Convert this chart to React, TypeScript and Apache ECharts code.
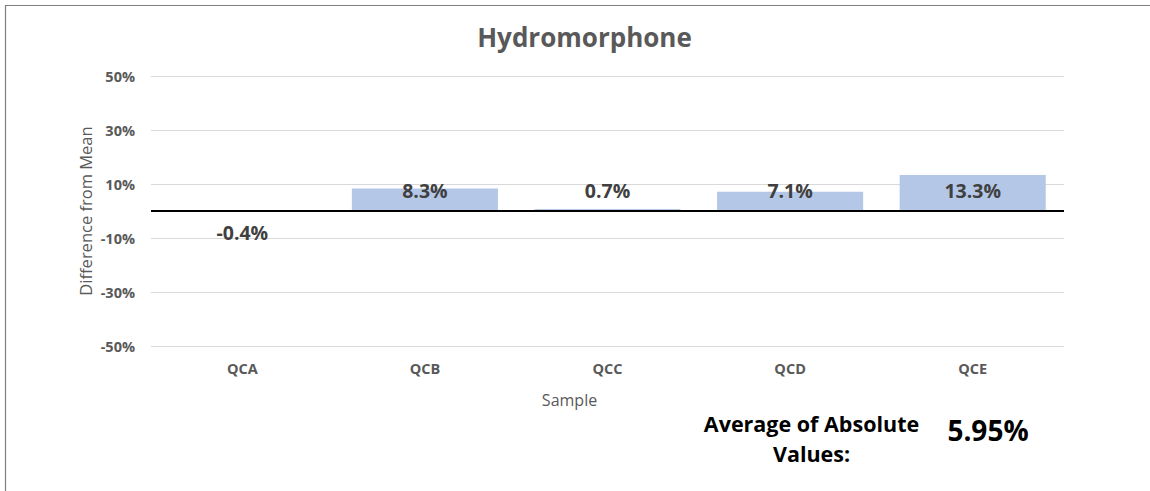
import React, { useEffect, useRef } from 'react';
import * as echarts from 'echarts';

const categories = ['QCA', 'QCB', 'QCC', 'QCD', 'QCE'];
const differences = [-0.4, 8.3, 0.7, 7.1, 13.3];
const gridTicks = [-50, -30, -10, 10, 30, 50];
const titleText = 'Hydromorphone';
const yAxisTitle = 'Difference from Mean';
const xAxisTitle = 'Sample';
const summaryLabel = 'Average of Absolute\nValues:';
const summaryValue = '5.95%';

const FONT = '"Open Sans", "Noto Sans", sans-serif';

export default function App() {
  const ref = useRef<HTMLDivElement>(null);
  useEffect(() => {
    if (!ref.current) return;
    const chart = echarts.init(ref.current, undefined, { renderer: 'svg' });
    const option: any = {
      animation: false,
      backgroundColor: '#ffffff',
      textStyle: { fontFamily: FONT },
      grid: { left: 151, right: 86, top: 76, bottom: 145, containLabel: false },
      xAxis: {
        type: 'category',
        data: categories,
        axisLine: { show: false, onZero: false },
        axisTick: { show: false },
        splitLine: { show: false },
        axisLabel: { margin: 15, fontSize: 14.5, fontWeight: 'bold', color: '#595959', fontFamily: FONT },
      },
      yAxis: {
        type: 'value',
        min: -50,
        max: 50,
        interval: 10,
        axisLine: { show: false },
        axisTick: { show: false },
        splitLine: { show: false },
        axisLabel: {
          margin: 16,
          fontSize: 14.5,
          fontWeight: 'bold',
          color: '#595959',
          fontFamily: FONT,
          formatter: (v: number) => (gridTicks.includes(v) ? v + '%' : ''),
        },
      },
      series: [
        {
          type: 'bar',
          z: 2,
          barCategoryGap: '20%',
          itemStyle: { color: '#b4c7e7' },
          data: differences.map((v) => ({
            value: v,
            label: v >= 0 ? { position: 'insideBottom', distance: 11 } : { position: 'bottom', distance: 10 },
          })),
          label: {
            show: true,
            fontSize: 19.5,
            fontWeight: 'bold',
            color: '#404040',
            fontFamily: FONT,
            formatter: (p: any) => Number(p.value).toFixed(1) + '%',
          },
          markLine: {
            silent: true,
            z: 1,
            symbol: ['none', 'none'],
            label: { show: false },
            lineStyle: { color: '#d9d9d9', width: 1, type: 'solid' },
            data: gridTicks.map((v) => ({ yAxis: v })),
          },
        },
        {
          type: 'line',
          data: [],
          markLine: {
            silent: true,
            z: 5,
            symbol: ['none', 'none'],
            label: { show: false },
            lineStyle: { color: '#000000', width: 2, type: 'solid' },
            data: [{ yAxis: 0 }],
          },
        },
      ],
      graphic: [
        {
          type: 'rect',
          shape: { x: 5.5, y: 5.5, width: 1300, height: 700 },
          style: { fill: 'none', stroke: '#7f7f7f', lineWidth: 1.2 },
          silent: true,
        },
        {
          type: 'text',
          x: 584.5,
          y: 37,
          style: {
            text: titleText,
            fontSize: 26,
            fontWeight: 'bold',
            fill: '#595959',
            fontFamily: FONT,
            textAlign: 'center',
            textVerticalAlign: 'middle',
          },
        },
        {
          type: 'text',
          x: 85,
          y: 211,
          rotation: Math.PI / 2,
          style: {
            text: yAxisTitle,
            fontSize: 16.5,
            fill: '#595959',
            fontFamily: FONT,
            textAlign: 'center',
            textVerticalAlign: 'middle',
          },
        },
        {
          type: 'text',
          x: 569.5,
          y: 400,
          style: {
            text: xAxisTitle,
            fontSize: 16,
            fill: '#595959',
            fontFamily: FONT,
            textAlign: 'center',
            textVerticalAlign: 'middle',
          },
        },
        {
          type: 'text',
          x: 811.5,
          y: 438,
          style: {
            text: summaryLabel,
            fontSize: 21.5,
            lineHeight: 30,
            fontWeight: 'bold',
            fill: '#000000',
            fontFamily: FONT,
            textAlign: 'center',
            textVerticalAlign: 'middle',
          },
        },
        {
          type: 'text',
          x: 988,
          y: 430,
          style: {
            text: summaryValue,
            fontSize: 28,
            fontWeight: 'bold',
            fill: '#000000',
            fontFamily: FONT,
            textAlign: 'center',
            textVerticalAlign: 'middle',
          },
        },
      ],
    };
    chart.setOption(option);
    return () => chart.dispose();
  }, []);
  return (
    <div
      ref={ref}
      style={{ position: 'fixed', left: 0, top: 0, width: 1150, height: 491, background: '#fff' }}
    />
  );
}
